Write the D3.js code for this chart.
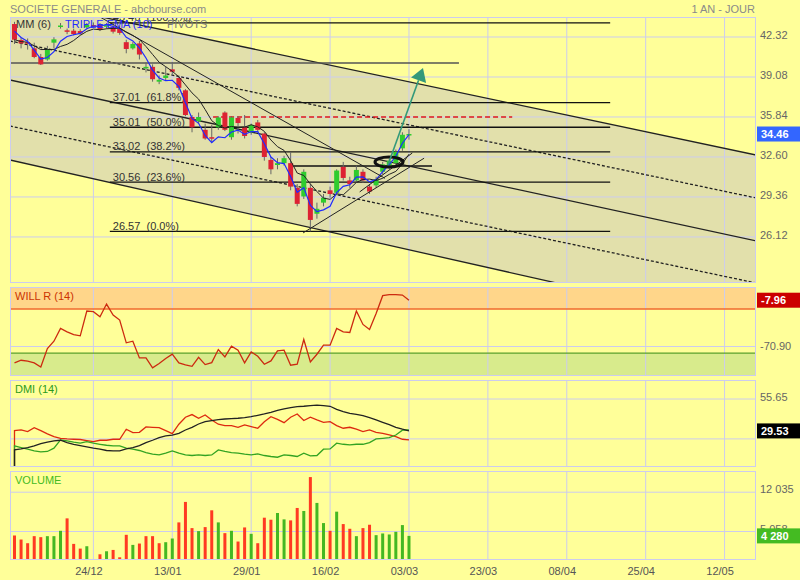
<!DOCTYPE html>
<html><head><meta charset="utf-8">
<script src="https://cdnjs.cloudflare.com/ajax/libs/d3/7.8.5/d3.min.js"></script>
<style>body{margin:0;background:#ffff99;}svg{display:block;font-family:"Liberation Sans",Arial,Helvetica,sans-serif;}</style>
</head><body><svg id="chart" width="800" height="580"></svg>
<script>
// ---------------- DATA ----------------
const xTickIdx = [12,24,36,48,60,72,84,96,108];
const xTickLabels = ["24/12","13/01","29/01","16/02","03/03","23/03","08/04","25/04","12/05"];
const opens  = [43.37,42.08,41.90,41.40,40.70,40.50,41.86,43.15,42.86,42.83,42.80,43.10,43.28,43.30,43.15,43.15,43.00,41.90,41.40,41.80,39.80,39.90,38.70,39.00,39.70,39.00,38.00,35.84,35.50,34.80,34.20,35.00,36.20,34.20,35.76,35.00,34.60,35.40,34.50,32.36,31.95,32.10,32.10,30.10,29.40,30.10,28.00,28.90,29.90,29.70,31.80,30.70,30.70,31.40,30.20,30.30,31.40,31.80,32.10,33.30,34.40];
const highs  = [43.55,42.30,42.20,41.86,40.95,41.60,42.30,43.45,43.00,43.00,42.95,43.45,43.50,43.45,43.45,43.30,43.20,42.10,41.90,42.00,40.25,40.10,39.20,39.90,40.30,39.20,38.10,36.00,36.20,35.30,35.20,35.90,36.30,35.90,35.90,36.00,35.30,35.60,34.60,32.60,32.50,32.70,33.00,30.40,31.60,30.40,28.90,29.60,30.20,31.60,32.20,31.00,31.90,31.60,30.40,31.00,32.20,32.50,33.20,34.60,34.85];
const lows   = [41.75,41.40,41.30,40.60,40.05,40.40,41.40,43.00,42.55,42.45,42.50,43.00,43.10,42.80,43.00,42.60,42.50,41.00,41.30,40.50,39.45,38.70,38.50,38.80,39.30,38.00,35.90,34.60,35.30,34.00,33.80,34.80,34.70,34.00,34.50,34.10,34.40,34.60,32.30,31.20,31.60,31.90,29.90,28.60,29.20,26.57,27.60,28.60,29.30,29.50,30.70,30.10,30.50,30.50,29.60,30.10,31.20,31.60,31.90,33.10,34.00];
const closes = [42.10,41.80,41.80,40.70,40.10,41.35,42.13,43.25,42.82,42.56,42.60,43.30,43.24,42.90,43.30,42.75,42.65,41.35,41.75,40.90,39.90,38.90,38.85,39.20,39.50,38.20,36.00,35.00,35.84,34.10,34.10,35.80,34.80,35.80,35.35,34.30,35.20,34.80,32.60,31.60,32.10,32.50,30.20,28.80,31.40,27.50,28.40,29.30,29.60,31.50,30.90,30.40,31.55,30.70,29.80,30.80,32.00,32.30,33.00,34.40,34.46];
const volumes = [4351,3636,2980,4232,4053,4232,4232,5185,7390,2861,2026,2444,179,1013,1550,1788,477,4470,2682,2920,4232,4232,2980,3159,3814,6675,10311,5662,5126,5841,8821,6675,4768,5185,3278,5781,4649,2980,7510,7152,8344,7212,7033,9238,8702,14721,10132,6556,5185,8582,6377,5543,4232,5662,6258,4410,4708,4530,5006,6198,4280];
const volDir = "rrrrrgggrrrgrrgrrrgrrrrggrrrgrrgrgrrgrrrggrrgrggrgrrgrrgggggg";
const willR = [-93.2,-89.6,-90.9,-93.2,-98.7,-73.7,-63.7,-46.4,-50.9,-54.6,-56.4,-22.7,-23.6,-30.5,-13.2,-28.2,-35.0,-65.9,-63.7,-86.4,-86.4,-100,-94.1,-87.3,-81.4,-93.2,-95.9,-97.8,-85.5,-95.5,-92.8,-75.0,-85.0,-70.5,-75.9,-93.2,-78.2,-84.1,-95.0,-90.5,-76.8,-75.9,-96.4,-95.0,-61.4,-91.9,-81.4,-69.1,-69.1,-46.4,-50.9,-51.8,-22.7,-40.9,-47.7,-25.9,-1.8,-0.5,-0.5,-0.9,-7.96];
const dmiMinus = [29.8,30.3,29.0,32.2,29.8,27.1,24.9,23.5,23.0,22.7,22.5,21.6,20.8,21.9,21.9,22.7,22.7,30.9,28.2,28.4,32.8,32.5,32.2,29.8,27.3,35.0,40.7,42.9,39.9,42.6,38.5,35.0,33.9,33.9,32.5,34.4,33.1,31.7,37.1,41.2,39.0,36.3,40.7,43.4,38.0,40.7,38.5,36.6,37.1,33.9,31.7,32.5,30.9,29.0,30.3,28.4,27.6,26.2,24.9,22.7,22.2];
const dmiPlus = [17.3,15.9,14.6,13.2,12.4,12.7,15.4,22.2,21.4,20.3,19.5,20.8,19.5,18.6,17.8,17.3,17.3,15.4,14.6,13.5,11.8,10.5,9.9,11.3,13.2,11.3,9.9,9.4,9.9,9.4,9.9,14.0,12.7,11.8,11.3,10.5,9.9,10.7,9.4,8.6,8.0,9.9,9.4,8.6,11.3,9.1,9.4,14.6,14.8,19.5,18.6,18.1,18.6,18.6,20.0,23.0,23.5,24.1,26.2,30.1,30.3];
const adx = [14.0,14.8,15.9,17.3,19.2,20.3,21.4,21.9,20.0,18.6,17.5,16.5,15.4,14.6,13.5,13.2,13.2,14.8,15.9,17.5,20.0,21.9,24.1,25.4,26.0,27.6,30.3,32.5,35.2,37.1,38.0,38.8,39.3,39.6,39.9,40.4,41.2,42.3,43.4,44.8,46.4,47.5,48.6,49.4,49.7,50.2,50.7,50.2,49.7,47.2,45.3,43.9,43.1,42.0,40.4,38.5,36.6,34.7,32.5,30.9,29.53];
const priceTicks = [42.32,39.08,35.84,32.60,29.36,26.12];
const willTicks = [-70.90];
const dmiTicks = [55.65, 23.0];
const dmiTickLabels = ["55.65", ""];
const volTicks = [12035, 5058];
const fibLevels = [43.46,37.01,35.01,33.02,30.56,26.57];
const fibPcts = ["100.0%","61.8%","50.0%","38.2%","23.6%","0.0%"];
const fibSpan = [14.5, 90.6];
const chUpper = [[-0.7,45.51],[112.8,32.76]];
const chUpperDash = [[-0.7,42.00],[112.8,29.28]];
const chMiddle = [[-0.7,38.84],[112.8,25.80]];
const chLowerDash = [[-0.7,35.11],[112.8,22.39]];
const chLower = [[-0.7,32.36],[112.8,18.75]];
const pivotLine = [[-0.7,40.21],[67.6,40.21]];
const pivotRed = [[30.2,35.84],[75.7,35.84]];
const shortLine = [[42.4,31.87],[63.5,31.87]];
const trendA = [[13.0,43.94],[56.35,30.87]];
const trendC = [[43.9,26.45],[62.3,32.50]];
const trendD = [[52.5,29.77],[60.5,32.92]];
const arrowPts = [[56.8,31.95],[62.13,39.81]];
const ellipseC = [56.96,32.19];

// ---------------- SETUP ----------------
const svg = d3.select("#chart");
const L = 10, R = 756;
const GRID = "#ccccee";
const x = d3.scaleLinear().domain([-0.684,112.78]).range([L,R]);
const panels = {main:{t:17,b:283}, will:{t:287,b:376}, dmi:{t:380,b:467}, vol:{t:471,b:560}};
const yP = d3.scaleLinear().domain([22.39,43.94]).range([283,17]);
const yW = d3.scaleLinear().domain([-111,10]).range([376,287]);
const yD = d3.scaleLinear().domain([0,71.2]).range([467,380]);
const yV = d3.scaleLinear().domain([0,15800]).range([560,471]);

svg.append("rect").attr("width",800).attr("height",580).attr("fill","#ffff99");
const defs = svg.append("defs");
Object.entries(panels).forEach(([k,p])=>{
  defs.append("clipPath").attr("id","clip-"+k).append("rect")
    .attr("x",L).attr("y",p.t).attr("width",R-L).attr("height",p.b-p.t);
});
const grp = k => svg.append("g").attr("clip-path",`url(#clip-${k})`);
const lineP = d3.line().x(d=>x(d[0])).y(d=>yP(d[1]));

function vGrid(g,p){
  g.selectAll(null).data(xTickIdx).join("line")
    .attr("x1",d=>x(d)).attr("x2",d=>x(d)).attr("y1",p.t).attr("y2",p.b)
    .attr("stroke",GRID).attr("stroke-width",1);
}
function hGrid(g,ticks,y){
  g.selectAll(null).data(ticks).join("line")
    .attr("x1",L).attr("x2",R).attr("y1",d=>y(d)).attr("y2",d=>y(d))
    .attr("stroke",GRID).attr("stroke-width",1);
}

// header
svg.append("text").attr("x",10).attr("y",13).attr("font-size",11).attr("fill","#8a8a8a").text("SOCIETE GENERALE - abcbourse.com");
svg.append("text").attr("x",755).attr("y",13).attr("font-size",11).attr("fill","#8a8a8a").attr("text-anchor","end").text("1 AN - JOUR");

// ---------------- MAIN PANEL ----------------
const gM = grp("main");
gM.append("path")
  .attr("d", lineP(chUpper.concat(chLower.slice().reverse())) + "Z")
  .attr("fill","#e2e0ab");
vGrid(gM,panels.main);
hGrid(gM,priceTicks,yP);

// channel lines
[[chUpper,null],[chUpperDash,"3,2"],[chMiddle,null],[chLowerDash,"3,2"],[chLower,null]].forEach(([d,dash])=>{
  gM.append("path").attr("d",lineP(d)).attr("fill","none").attr("stroke","#222")
    .attr("stroke-width",1.3).attr("stroke-dasharray",dash);
});
// pivots
gM.append("path").attr("d",lineP(pivotLine)).attr("stroke","#555").attr("stroke-width",1.6).attr("fill","none");
gM.append("path").attr("d",lineP(pivotRed)).attr("stroke","#e01818").attr("stroke-width",1.5).attr("stroke-dasharray","5,3").attr("fill","none");
gM.append("path").attr("d",lineP(shortLine)).attr("stroke","#111").attr("stroke-width",1.3).attr("fill","none");

// fibonacci
fibLevels.forEach((v,k)=>{
  gM.append("path").attr("d",lineP([[fibSpan[0],v],[fibSpan[1],v]])).attr("stroke","#111").attr("stroke-width",1.3).attr("fill","none");
  gM.append("text").attr("x",x(fibSpan[0])+3).attr("y",yP(v)-1.5).attr("font-size",11).attr("fill","#333")
    .style("white-space","pre").text(v.toFixed(2)+"  ("+fibPcts[k]+")");
});

// candles
const idx = d3.range(closes.length);
gM.selectAll(".wick").data(idx).join("line")
  .attr("x1",i=>x(i)).attr("x2",i=>x(i)).attr("y1",i=>yP(highs[i])).attr("y2",i=>yP(lows[i]))
  .attr("stroke","#666").attr("stroke-width",1);
gM.selectAll(".body").data(idx).join("rect")
  .attr("x",i=>x(i)-2.5).attr("width",5)
  .attr("y",i=>yP(Math.max(opens[i],closes[i])))
  .attr("height",i=>Math.max(1.5,Math.abs(yP(opens[i])-yP(closes[i]))))
  .attr("fill",i=>closes[i]>=opens[i]?"#2ecc2e":"#dd2233");

// moving averages
const sma6 = closes.map((v,i)=>d3.mean(closes.slice(Math.max(0,i-5),i+1)));
function ema(arr,n,seed){const a=2/(n+1);let p=seed;return arr.map(v=>(p=p+a*(v-p)));}
const e1=ema(closes,10,opens[0]), e2=ema(e1,10,opens[0]), e3=ema(e2,10,opens[0]);
const tema = e1.map((v,i)=>3*v-3*e2[i]+e3[i]);
gM.append("path").attr("d",lineP(sma6.map((v,i)=>[i,v]))).attr("fill","none").attr("stroke","#222").attr("stroke-width",1);
gM.append("path").attr("d",lineP(tema.map((v,i)=>[i,v]))).attr("fill","none").attr("stroke","#1f2bff").attr("stroke-width",1.2);

// trend lines
[trendA,trendC,trendD].forEach(d=>{
  gM.append("path").attr("d",lineP(d)).attr("fill","none").attr("stroke","#222").attr("stroke-width",1);
});
// ellipse
gM.append("ellipse").attr("cx",x(ellipseC[0])).attr("cy",yP(ellipseC[1])).attr("rx",14).attr("ry",5)
  .attr("fill","none").attr("stroke","#111").attr("stroke-width",3);
// arrow
{
  const x0=x(arrowPts[0][0]), y0=yP(arrowPts[0][1]), x1=x(arrowPts[1][0]), y1=yP(arrowPts[1][1]);
  const ang=Math.atan2(y1-y0,x1-x0), len=13, half=8;
  const bx=x1-len*Math.cos(ang), by=y1-len*Math.sin(ang);
  gM.append("line").attr("x1",x0).attr("y1",y0).attr("x2",bx).attr("y2",by).attr("stroke","#33997a").attr("stroke-width",1.6);
  const px=-Math.sin(ang), py=Math.cos(ang);
  gM.append("polygon").attr("points",[[x1,y1],[bx+px*half,by+py*half],[bx-px*half,by-py*half]].map(p=>p.join(",")).join(" "))
    .attr("fill","#33997a");
}
// legends
gM.append("text").attr("x",16).attr("y",28).attr("font-size",11).attr("fill","#333").text("MM (6)");
gM.append("text").attr("x",65).attr("y",28).attr("font-size",11).attr("fill","#1f2bff").text("TRIPLE EMA (10)");
gM.append("text").attr("x",167).attr("y",28).attr("font-size",11).attr("fill","#777").text("PIVOTS");

// ---------------- WILL R ----------------
const gW = grp("will");
gW.append("rect").attr("x",L).attr("width",R-L).attr("y",yW(10)).attr("height",yW(-20)-yW(10)).attr("fill","#ffd68a");
gW.append("rect").attr("x",L).attr("width",R-L).attr("y",yW(-80)).attr("height",yW(-111)-yW(-80)).attr("fill","#d8eb8c");
vGrid(gW,panels.will);
hGrid(gW,willTicks,yW);
gW.append("line").attr("x1",L).attr("x2",R).attr("y1",yW(-20)).attr("y2",yW(-20)).attr("stroke","#f06a30").attr("stroke-width",1.5);
gW.append("line").attr("x1",L).attr("x2",R).attr("y1",yW(-80)).attr("y2",yW(-80)).attr("stroke","#5aa02c").attr("stroke-width",1.2);
gW.append("path").attr("d",d3.line().x((d,i)=>x(i)).y(d=>yW(d))(willR)).attr("fill","none").attr("stroke","#cc2a10").attr("stroke-width",1.3);
gW.append("text").attr("x",15).attr("y",300).attr("font-size",11).attr("fill","#cc3300").text("WILL R (14)");

// ---------------- DMI ----------------
const gD = grp("dmi");
vGrid(gD,panels.dmi);
hGrid(gD,dmiTicks,yD);
const dmiLine = d3.line().x(d=>x(d[0])).y(d=>yD(d[1]));
[[dmiMinus,"#dd2a10"],[dmiPlus,"#33a322"],[adx,"#222"]].forEach(([s,c])=>{
  const pts=[[0,0]].concat(s.map((v,i)=>[i,v]));
  gD.append("path").attr("d",dmiLine(pts)).attr("fill","none").attr("stroke",c).attr("stroke-width",1.3);
});
gD.append("text").attr("x",15).attr("y",393).attr("font-size",11).attr("fill","#2c9a1c").text("DMI (14)");

// ---------------- VOLUME ----------------
const gV = grp("vol");
vGrid(gV,panels.vol);
hGrid(gV,volTicks,yV);
gV.selectAll(".vb").data(idx).join("rect")
  .attr("x",i=>x(i)-1.5).attr("width",3)
  .attr("y",i=>yV(volumes[i])).attr("height",i=>yV(0)-yV(volumes[i]))
  .attr("fill",i=>volDir[i]==="g"?"#44b822":"#ff3a22");
gV.append("text").attr("x",15).attr("y",484).attr("font-size",11).attr("fill","#44bb22").text("VOLUME");

// panel borders
Object.values(panels).forEach(p=>{
  svg.append("rect").attr("x",L+0.5).attr("y",p.t+0.5).attr("width",R-L-1).attr("height",p.b-p.t-1)
    .attr("fill","none").attr("stroke",GRID);
});

// ---------------- AXES TEXT ----------------
const fmtSp = v => d3.format(",")(v).replace(/,/g," ");
svg.selectAll(".pt").data(priceTicks).join("text").attr("x",760).attr("y",d=>yP(d)+2).attr("font-size",11).attr("fill","#666").text(d=>d.toFixed(2));
svg.selectAll(".wt").data(willTicks).join("text").attr("x",760).attr("y",d=>yW(d)+3).attr("font-size",11).attr("fill","#666").text(d=>d.toFixed(2));
svg.selectAll(".dt").data(dmiTicks.filter((d,k)=>dmiTickLabels[k])).join("text").attr("x",760).attr("y",d=>yD(d)+2).attr("font-size",11).attr("fill","#666").text(d=>d.toFixed(2));
svg.selectAll(".vt").data(volTicks).join("text").attr("x",760).attr("y",d=>yV(d)+1).attr("font-size",11).attr("fill","#666").text(d=>fmtSp(d));
svg.selectAll(".xt").data(xTickIdx).join("text").attr("x",d=>x(d)-4.5).attr("y",575).attr("font-size",11)
  .attr("text-anchor","middle").attr("fill","#555").text((d,k)=>xTickLabels[k]);

// value boxes
function box(yc,bg,label){
  svg.append("rect").attr("x",757).attr("y",yc-7.5).attr("width",43).attr("height",15).attr("fill",bg);
  svg.append("text").attr("x",761).attr("y",yc+4).attr("font-size",11).attr("font-weight","bold").attr("fill","#fff").text(label);
}
box(yP(closes[closes.length-1]),"#3366ff",closes[closes.length-1].toFixed(2));
box(yW(willR[willR.length-1]),"#cc0000",willR[willR.length-1].toFixed(2));
box(yD(adx[adx.length-1]),"#000000",adx[adx.length-1].toFixed(2));
box(yV(volumes[volumes.length-1]),"#44bb22",fmtSp(volumes[volumes.length-1]));
</script></body></html>
